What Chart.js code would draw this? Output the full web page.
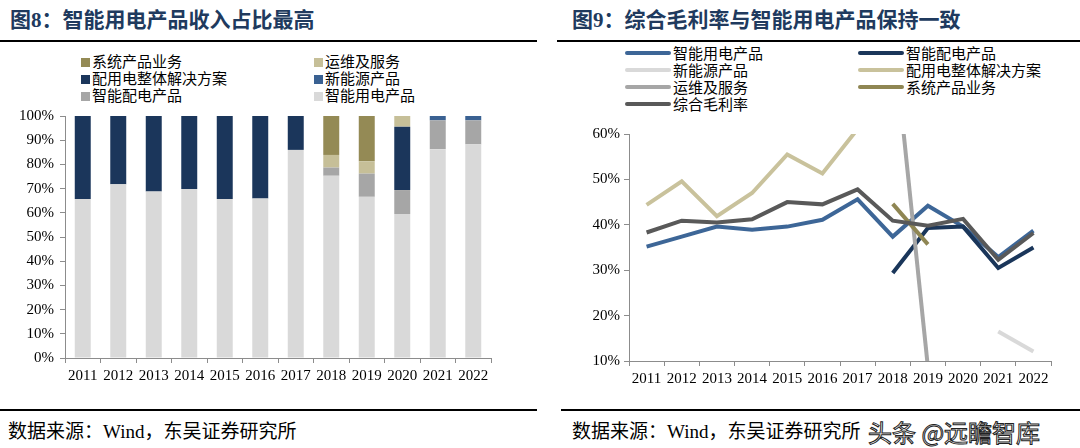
<!DOCTYPE html>
<html>
<head>
<meta charset="utf-8">
<script src="https://cdn.jsdelivr.net/npm/chart.js@4.4.1/dist/chart.umd.min.js"></script>
<style>
  body { margin: 0; width: 1080px; height: 448px; background: #fff; position: relative; overflow: hidden;
         font-family: "Liberation Serif", "Noto Sans CJK SC", serif; }
  .title { position: absolute; top: 3px; font-size: 21px; font-weight: bold; color: #203a5e; white-space: nowrap; }
  .rule { position: absolute; height: 2px; background: #000; }
  .src { position: absolute; top: 416px; font-size: 19px; color: #000; white-space: nowrap; }
  .box { position: absolute; }
  .leg { position: absolute; font-size: 15px; color: #000; white-space: nowrap; line-height: 17px; }
  .leg span.sq { display: inline-block; width: 9px; height: 9px; margin-right: 2px; vertical-align: 0px; }
  .leg span.ln { display: inline-block; width: 46px; height: 4px; border-radius: 2px; margin-right: 2px; vertical-align: 4px; }
  .wm { position: absolute; left: 868px; top: 414px; font-size: 24px; color: #fff; font-family: "Noto Sans CJK SC", sans-serif;
        -webkit-text-stroke: 1px #222; white-space: nowrap; }
</style>
</head>
<body>
<div class="title" style="left:10px">图8：智能用电产品收入占比最高</div>
<div class="rule" style="left:0; width:537px; top:40px"></div>
<div class="title" style="left:572px">图9：综合毛利率与智能用电产品保持一致</div>
<div class="rule" style="left:557px; width:523px; top:40px"></div>

<div id="legend1" class="leg" style="left:0; top:0"></div>
<div id="legend2" class="leg" style="left:0; top:0"></div>

<div class="box" style="left:0; top:101px; width:510px; height:292px"><canvas id="chart1"></canvas></div>
<div class="box" style="left:550px; top:121px; width:530px; height:272px"><canvas id="chart2"></canvas></div>

<div class="rule" style="left:0; width:537px; top:409px"></div>
<div class="rule" style="left:561px; width:519px; top:409px"></div>
<div class="src" style="left:8px">数据来源：Wind，东吴证券研究所</div>
<div class="src" style="left:572px">数据来源：Wind，东吴证券研究所</div>
<div class="wm">头条 @远瞻智库</div>

<script>
const years = ['2011','2012','2013','2014','2015','2016','2017','2018','2019','2020','2021','2022']

// 图8 revenue share (%)
const shareSmartUse  = [65.7, 71.8, 68.8, 69.8, 65.7, 65.9, 86.0, 75.3, 66.6, 59.5, 86.3, 88.3]
const shareSmartDist = [null, null, null, null, null, null, null, 3.4, 9.6, 9.9, 11.9, 9.9]
const shareSolution  = [34.3, 28.2, 31.2, 30.2, 34.3, 34.1, 14.0, null, null, 26.2, null, null]
const shareNewEnergy = [null, null, null, null, null, null, null, null, null, null, 1.8, 1.8]
const shareService   = [null, null, null, null, null, null, null, 5.2, 5.1, 4.4, null, null]
const shareSystem    = [null, null, null, null, null, null, null, 16.1, 18.7, null, null, null]

// 图9 gross margin (%)
const marginSmartUse  = [35.2, 37.4, 39.6, 38.9, 39.6, 41.1, 45.6, 37.4, 44.2, 39.6, 32.9, 38.7]
const marginSmartDist = [null, null, null, null, null, null, null, 29.4, 39.3, 39.6, 30.5, 35.0]
const marginNewEnergy = [null, null, null, null, null, null, null, null, null, null, 16.5, 12.1]
const marginSolution  = [44.4, 49.6, 41.9, 47.0, 55.5, 51.3, 61.1, null, null, null, null, null]
const marginService   = [null, null, null, null, null, null, null, 83.3, 8.6, null, null, null]
const marginSystem    = [null, null, null, null, null, null, null, 44.6, 35.7, null, null, null]
const marginTotal     = [38.3, 40.9, 40.5, 41.2, 45.0, 44.5, 47.8, 40.9, 39.8, 41.3, 32.3, 38.2]

const tickFont = { family: '"Liberation Serif", serif', size: 15 }
const axisColor = '#8c8c8c'

// ---------------- 图8 stacked bars ----------------
const barSets = [
  { label: '智能用电产品', data: shareSmartUse, backgroundColor: '#d9d9d9' },
  { label: '智能配电产品', data: shareSmartDist, backgroundColor: '#a6a6a6' },
  { label: '配用电整体解决方案', data: shareSolution, backgroundColor: '#1b365b' },
  { label: '新能源产品', data: shareNewEnergy, backgroundColor: '#3a6192' },
  { label: '运维及服务', data: shareService, backgroundColor: '#c6bf98' },
  { label: '系统产品业务', data: shareSystem, backgroundColor: '#948a55' }
]

new Chart(document.getElementById('chart1'), {
  type: 'bar',
  data: {
    labels: years,
    datasets: barSets.map(d => Object.assign({ barPercentage: 0.45, categoryPercentage: 1.0, borderWidth: 0 }, d))
  },
  options: {
    responsive: true,
    maintainAspectRatio: false,
    animation: false,
    layout: { padding: { top: 0, right: 19, left: 0, bottom: 0 } },
    plugins: { legend: { display: false }, tooltip: { enabled: false } },
    scales: {
      x: {
        stacked: true,
        border: { color: axisColor, width: 1 },
        grid: { drawOnChartArea: false, tickLength: 5, color: axisColor, offset: true },
        ticks: { font: tickFont, color: '#000', padding: 4, maxRotation: 0 },
        afterFit: s => { s.height = 35 }
      },
      y: {
        stacked: true,
        min: 0, max: 100,
        border: { color: axisColor, width: 1 },
        grid: { drawOnChartArea: false, tickLength: 5, color: axisColor },
        ticks: { stepSize: 10, font: tickFont, color: '#000', padding: 6, callback: v => v + '%' },
        afterFit: s => { s.width = 65 }
      }
    }
  }
})

// ---------------- 图9 lines ----------------
const lineSets = [
  { label: '智能用电产品', data: marginSmartUse, borderColor: '#3d6697' },
  { label: '智能配电产品', data: marginSmartDist, borderColor: '#1a365a' },
  { label: '新能源产品', data: marginNewEnergy, borderColor: '#d9d9d9' },
  { label: '配用电整体解决方案', data: marginSolution, borderColor: '#c9c29c' },
  { label: '运维及服务', data: marginService, borderColor: '#a6a6a6' },
  { label: '系统产品业务', data: marginSystem, borderColor: '#8f8653' },
  { label: '综合毛利率', data: marginTotal, borderColor: '#595959' }
]

new Chart(document.getElementById('chart2'), {
  type: 'line',
  data: {
    labels: years,
    datasets: lineSets.map((d, i) => Object.assign({
      borderWidth: 4, pointRadius: 0, tension: 0, fill: false, spanGaps: false,
      borderCapStyle: 'butt', borderJoinStyle: 'miter', order: lineSets.length - i
    }, d))
  },
  options: {
    responsive: true,
    maintainAspectRatio: false,
    animation: false,
    layout: { padding: { top: 0, right: 29, left: 0, bottom: 0 } },
    plugins: { legend: { display: false }, tooltip: { enabled: false } },
    scales: {
      x: {
        offset: true,
        border: { color: axisColor, width: 1 },
        grid: { drawOnChartArea: false, tickLength: 5, color: axisColor, offset: true },
        ticks: { font: tickFont, color: '#000', padding: 4, maxRotation: 0 },
        afterFit: s => { s.height = 32 }
      },
      y: {
        min: 10, max: 60,
        border: { color: axisColor, width: 1 },
        grid: { drawOnChartArea: false, tickLength: 5, color: axisColor },
        ticks: { stepSize: 10, font: tickFont, color: '#000', padding: 4, callback: v => v + '%' },
        afterFit: s => { s.width = 79 }
      }
    }
  }
})

// ---------------- HTML legends (two columns, as in the report) ----------------
function buildLegend(el, items, left, top, colX, rowH, kind) {
  el.style.left = left + 'px'
  el.style.top = top + 'px'
  items.forEach((it, i) => {
    const div = document.createElement('div')
    div.style.position = 'absolute'
    div.style.left = (i % 2) * colX + 'px'
    div.style.top = Math.floor(i / 2) * rowH + 'px'
    const mark = document.createElement('span')
    mark.className = kind
    mark.style.background = it.color
    div.appendChild(mark)
    div.appendChild(document.createTextNode(it.label))
    el.appendChild(div)
  })
}

const barLegendOrder = [5, 4, 2, 3, 1, 0].map(i => ({ label: barSets[i].label, color: barSets[i].backgroundColor }))
buildLegend(document.getElementById('legend1'), barLegendOrder, 81, 54, 233, 17, 'sq')

const lineLegendOrder = lineSets.map(d => ({ label: d.label, color: d.borderColor }))
buildLegend(document.getElementById('legend2'), lineLegendOrder, 625, 46, 233, 17, 'ln')
</script>
</body>
</html>
